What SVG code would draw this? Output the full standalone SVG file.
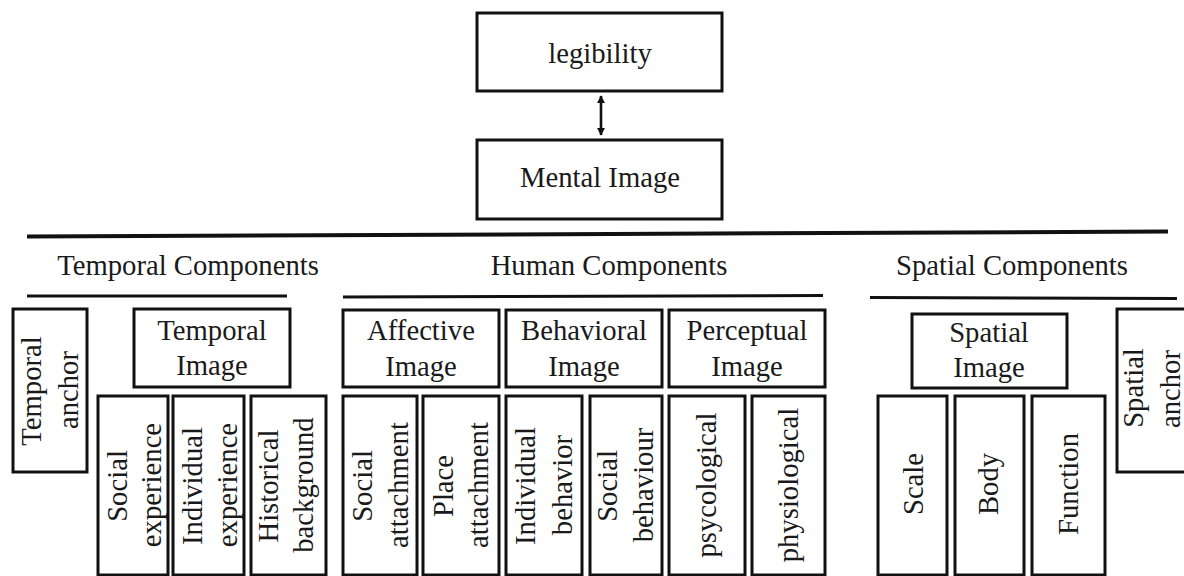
<svg xmlns="http://www.w3.org/2000/svg" width="1184" height="576" viewBox="0 0 1184 576" font-family="Liberation Serif, DejaVu Serif, serif">
<style>
.box{fill:#fff;stroke:#111;stroke-width:3}
.t{font-family:'Liberation Serif','DejaVu Serif',serif;font-size:28.7px;fill:#1a1a1a;text-anchor:middle}
.rule{stroke:#111;fill:none}
</style>
<defs>
<marker id="ah" viewBox="0 0 10 10" refX="9" refY="5" markerWidth="3.2" markerHeight="3.2" orient="auto-start-reverse" markerUnits="strokeWidth">
<path d="M0,0 L10,5 L0,10 z" fill="#111"/>
</marker>
</defs>
<rect width="1184" height="576" fill="#fff"/>

<g id="connectors">
<line x1="601" y1="96" x2="601" y2="135" stroke="#111" stroke-width="2.6" marker-start="url(#ah)" marker-end="url(#ah)"/>
</g>

<g id="rules">
<line class="rule" x1="27" y1="236.5" x2="1168" y2="231.5" stroke-width="4"/>
<line class="rule" x1="27" y1="296" x2="287" y2="296" stroke-width="3"/>
<line class="rule" x1="343" y1="297" x2="823" y2="295.5" stroke-width="3"/>
<line class="rule" x1="870" y1="297.5" x2="1177" y2="298.5" stroke-width="3"/>
</g>

<g id="headers">
<text class="t" x="188" y="275">Temporal Components</text>
<text class="t" x="609" y="275">Human Components</text>
<text class="t" x="1012" y="275">Spatial Components</text>
</g>

<g id="legibility">
<rect class="box" x="477" y="13" width="245" height="78"/>
<text class="t" x="600" y="63">legibility</text>
</g>
<g id="mental-image">
<rect class="box" x="477" y="140" width="245" height="79"/>
<text class="t" x="600" y="187">Mental Image</text>
</g>

<g id="temporal-anchor">
<rect class="box" x="13" y="309" width="74" height="163"/>
<text class="t" x="41" y="391" transform="rotate(-90 41 391)">Temporal</text>
<text class="t" x="78" y="390" transform="rotate(-90 78 390)">anchor</text>
</g>
<g id="temporal-image">
<rect class="box" x="134" y="309" width="156" height="78"/>
<text class="t" x="212" y="340">Temporal</text>
<text class="t" x="212" y="375">Image</text>
</g>
<g id="affective-image">
<rect class="box" x="343" y="310" width="156" height="77"/>
<text class="t" x="421" y="340">Affective</text>
<text class="t" x="421" y="376">Image</text>
</g>
<g id="behavioral-image">
<rect class="box" x="506" y="310" width="156" height="77"/>
<text class="t" x="584" y="340">Behavioral</text>
<text class="t" x="584" y="376">Image</text>
</g>
<g id="perceptual-image">
<rect class="box" x="669" y="310" width="156" height="77"/>
<text class="t" x="747" y="340">Perceptual</text>
<text class="t" x="747" y="376">Image</text>
</g>
<g id="spatial-image">
<rect class="box" x="912" y="314" width="155" height="74"/>
<text class="t" x="989" y="342">Spatial</text>
<text class="t" x="989" y="377">Image</text>
</g>
<g id="spatial-anchor">
<rect class="box" x="1117" y="309" width="80" height="163"/>
<text class="t" x="1143" y="388" transform="rotate(-90 1143 388)">Spatial</text>
<text class="t" x="1180" y="389" transform="rotate(-90 1180 389)">anchor</text>
</g>

<g id="social-experience">
<rect class="box" x="98" y="396" width="70" height="179"/>
<text class="t" x="127" y="486" transform="rotate(-90 127 486)">Social</text>
<text class="t" x="161" y="485" transform="rotate(-90 161 485)">experience</text>
</g>
<g id="individual-experience">
<rect class="box" x="173" y="396" width="71" height="179"/>
<text class="t" x="202" y="486" transform="rotate(-90 202 486)">Individual</text>
<text class="t" x="237" y="485" transform="rotate(-90 237 485)">experience</text>
</g>
<g id="historical-background">
<rect class="box" x="251" y="396" width="75" height="179"/>
<text class="t" x="278" y="486" transform="rotate(-90 278 486)">Historical</text>
<text class="t" x="313" y="485" transform="rotate(-90 313 485)">background</text>
</g>
<g id="social-attachment">
<rect class="box" x="343" y="396" width="74" height="179"/>
<text class="t" x="372" y="486" transform="rotate(-90 372 486)">Social</text>
<text class="t" x="408" y="485" transform="rotate(-90 408 485)">attachment</text>
</g>
<g id="place-attachment">
<rect class="box" x="423" y="396" width="76" height="179"/>
<text class="t" x="453" y="486" transform="rotate(-90 453 486)">Place</text>
<text class="t" x="488" y="485" transform="rotate(-90 488 485)">attachment</text>
</g>
<g id="individual-behavior">
<rect class="box" x="506" y="396" width="76" height="179"/>
<text class="t" x="535" y="486" transform="rotate(-90 535 486)">Individual</text>
<text class="t" x="572" y="485" transform="rotate(-90 572 485)">behavior</text>
</g>
<g id="social-behaviour">
<rect class="box" x="590" y="396" width="72" height="179"/>
<text class="t" x="617" y="486" transform="rotate(-90 617 486)">Social</text>
<text class="t" x="653" y="485" transform="rotate(-90 653 485)">behaviour</text>
</g>
<g id="psycological">
<rect class="box" x="669" y="396" width="76" height="179"/>
<text class="t" x="716" y="485" transform="rotate(-90 716 485)">psycological</text>
</g>
<g id="physiological">
<rect class="box" x="752" y="396" width="73" height="179"/>
<text class="t" x="798" y="485" transform="rotate(-90 798 485)">physiological</text>
</g>
<g id="scale">
<rect class="box" x="878" y="396" width="69" height="179"/>
<text class="t" x="923" y="484" transform="rotate(-90 923 484)">Scale</text>
</g>
<g id="body">
<rect class="box" x="955" y="396" width="69" height="179"/>
<text class="t" x="998" y="484" transform="rotate(-90 998 484)">Body</text>
</g>
<g id="function">
<rect class="box" x="1032" y="396" width="73" height="179"/>
<text class="t" x="1078" y="484" transform="rotate(-90 1078 484)">Function</text>
</g>
</svg>
